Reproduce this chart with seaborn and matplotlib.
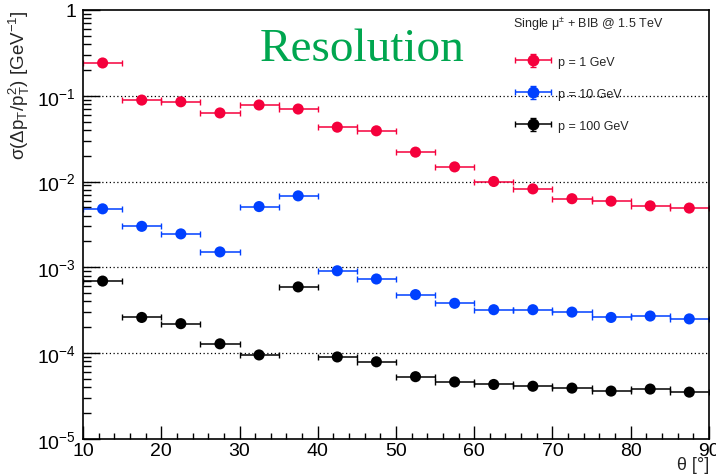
import numpy as np
import pandas as pd
import matplotlib
matplotlib.use("Agg")
import matplotlib.pyplot as plt
import matplotlib.ticker as mticker
from matplotlib.container import ErrorbarContainer
from matplotlib.legend_handler import HandlerErrorbar
import seaborn as sns

# theta bins (centres, half width 2.5 deg)
theta = [12.5, 17.5, 22.5, 27.5, 32.5, 37.5, 42.5, 47.5,
         52.5, 57.5, 62.5, 67.5, 72.5, 77.5, 82.5, 87.5]
bin_half = 2.5

# sigma(dpT/pT^2) in GeV^-1
res_1gev = [0.241, 0.089, 0.085, 0.063, 0.078, 0.070, 0.043, 0.039,
            0.022, 0.0148, 0.0100, 0.0082, 0.0063, 0.0059, 0.0052, 0.0049]
res_10gev = [0.0048, 0.0030, 0.00245, 0.00151, 0.0051, 0.0068, 0.00091, 0.00073,
             0.00048, 0.00038, 0.00032, 0.00032, 0.00030, 0.00026, 0.00027, 0.00025]
res_100gev = [0.00069, 0.00026, 0.00022, 0.000128, 9.5e-5, 0.00059, 9.0e-5, 7.9e-5,
              5.3e-5, 4.6e-5, 4.3e-5, 4.1e-5, 3.9e-5, 3.6e-5, 3.8e-5, 3.5e-5]

labels = ["p = 1 GeV", "p = 10 GeV", "p = 100 GeV"]
colors = ["#f5003c", "#0040ff", "#000000"]

df = pd.DataFrame({
    "theta": theta * 3,
    "sigma": res_1gev + res_10gev + res_100gev,
    "sample": [labels[0]] * 16 + [labels[1]] * 16 + [labels[2]] * 16,
})

sns.set_theme(style="ticks")
plt.rcParams["font.family"] = ["Liberation Sans", "DejaVu Sans"]
plt.rcParams["mathtext.fontset"] = "custom"
plt.rcParams["mathtext.rm"] = "Liberation Sans"
plt.rcParams["mathtext.it"] = "Liberation Sans"

fig = plt.figure(figsize=(7.16, 4.77), dpi=100)
ax = fig.add_axes([0.116, 0.078, 0.874, 0.899])

# horizontal bin-width bars with end caps
for lab, col in zip(labels, colors):
    sub = df[df["sample"] == lab]
    ax.errorbar(sub["theta"], sub["sigma"], xerr=bin_half, fmt="none",
                ecolor=col, elinewidth=1.1, capsize=2.5, capthick=1.0, zorder=2)

sns.scatterplot(data=df, x="theta", y="sigma", hue="sample", palette=colors,
                s=64, edgecolor="none", legend=False, ax=ax, zorder=3)

ax.set_yscale("log")
ax.set_xlim(10, 90)
ax.set_ylim(1e-5, 1)

for v in [1e-1, 1e-2, 1e-3, 1e-4]:
    ax.axhline(v, color="black", linestyle=(0, (1, 2)), linewidth=0.9, zorder=1)

# ROOT-like axes
ax.xaxis.set_major_locator(mticker.MultipleLocator(10))
ax.xaxis.set_minor_locator(mticker.MultipleLocator(2))
ax.yaxis.set_major_locator(mticker.LogLocator(base=10, numticks=10))
ax.yaxis.set_minor_locator(mticker.LogLocator(base=10, subs=np.arange(2, 10), numticks=10))
ax.yaxis.set_minor_formatter(mticker.NullFormatter())

def yfmt(v, pos):
    if abs(v - 1) < 1e-9:
        return "1"
    return r"$10^{%d}$" % int(round(np.log10(v)))

ax.yaxis.set_major_formatter(mticker.FuncFormatter(yfmt))

ax.set_xlabel("θ [°]", fontsize=13, labelpad=0, ha="right", va="top")
ax.xaxis.set_label_coords(1.0, -0.04)
ax.set_ylabel(r"σ(Δp$_{T}$/p$_{T}^{2}$) [GeV$^{-1}$]", fontsize=13.5, loc="top")

ax.text(0.446, 0.91, "Resolution", transform=ax.transAxes, ha="center", va="center",
        fontsize=34, color="#00a64f", family=["Liberation Serif", "DejaVu Serif"])
ax.text(0.687, 0.968, "Single μ$^{\\pm}$ + BIB @ 1.5 TeV", transform=ax.transAxes,
        ha="left", va="center", fontsize=9)

# legend proxies with both error bars (no data, only for the legend)
proxy = []
for col in colors:
    proxy.append(ax.errorbar([np.nan], [np.nan], xerr=[1], yerr=[1], fmt="o", color=col,
                             markersize=7.5, elinewidth=1.1, capsize=2.5))
ax.legend(proxy, labels, loc="upper left", bbox_to_anchor=(0.69, 0.893),
          frameon=False, fontsize=9, labelspacing=1.6, handlelength=2.9,
          handletextpad=0.55, borderpad=0, borderaxespad=0,
          handler_map={ErrorbarContainer: HandlerErrorbar(xerr_size=1.45, yerr_size=0.55)})

for sp in ax.spines.values():
    sp.set_linewidth(1.2)
    sp.set_color("black")

ax.tick_params(axis="both", which="both", direction="in", color="black",
               top=False, right=False, labelsize=14, labelcolor="black")
ax.tick_params(axis="y", which="major", length=12.5, width=1.0, pad=5)
ax.tick_params(axis="y", which="minor", length=6, width=1.0)
ax.tick_params(axis="x", which="major", length=9.5, width=1.0, pad=2)
ax.tick_params(axis="x", which="minor", length=4.5, width=1.0)
ax.set_axisbelow(False)

fig.savefig("out.png", dpi=100)
